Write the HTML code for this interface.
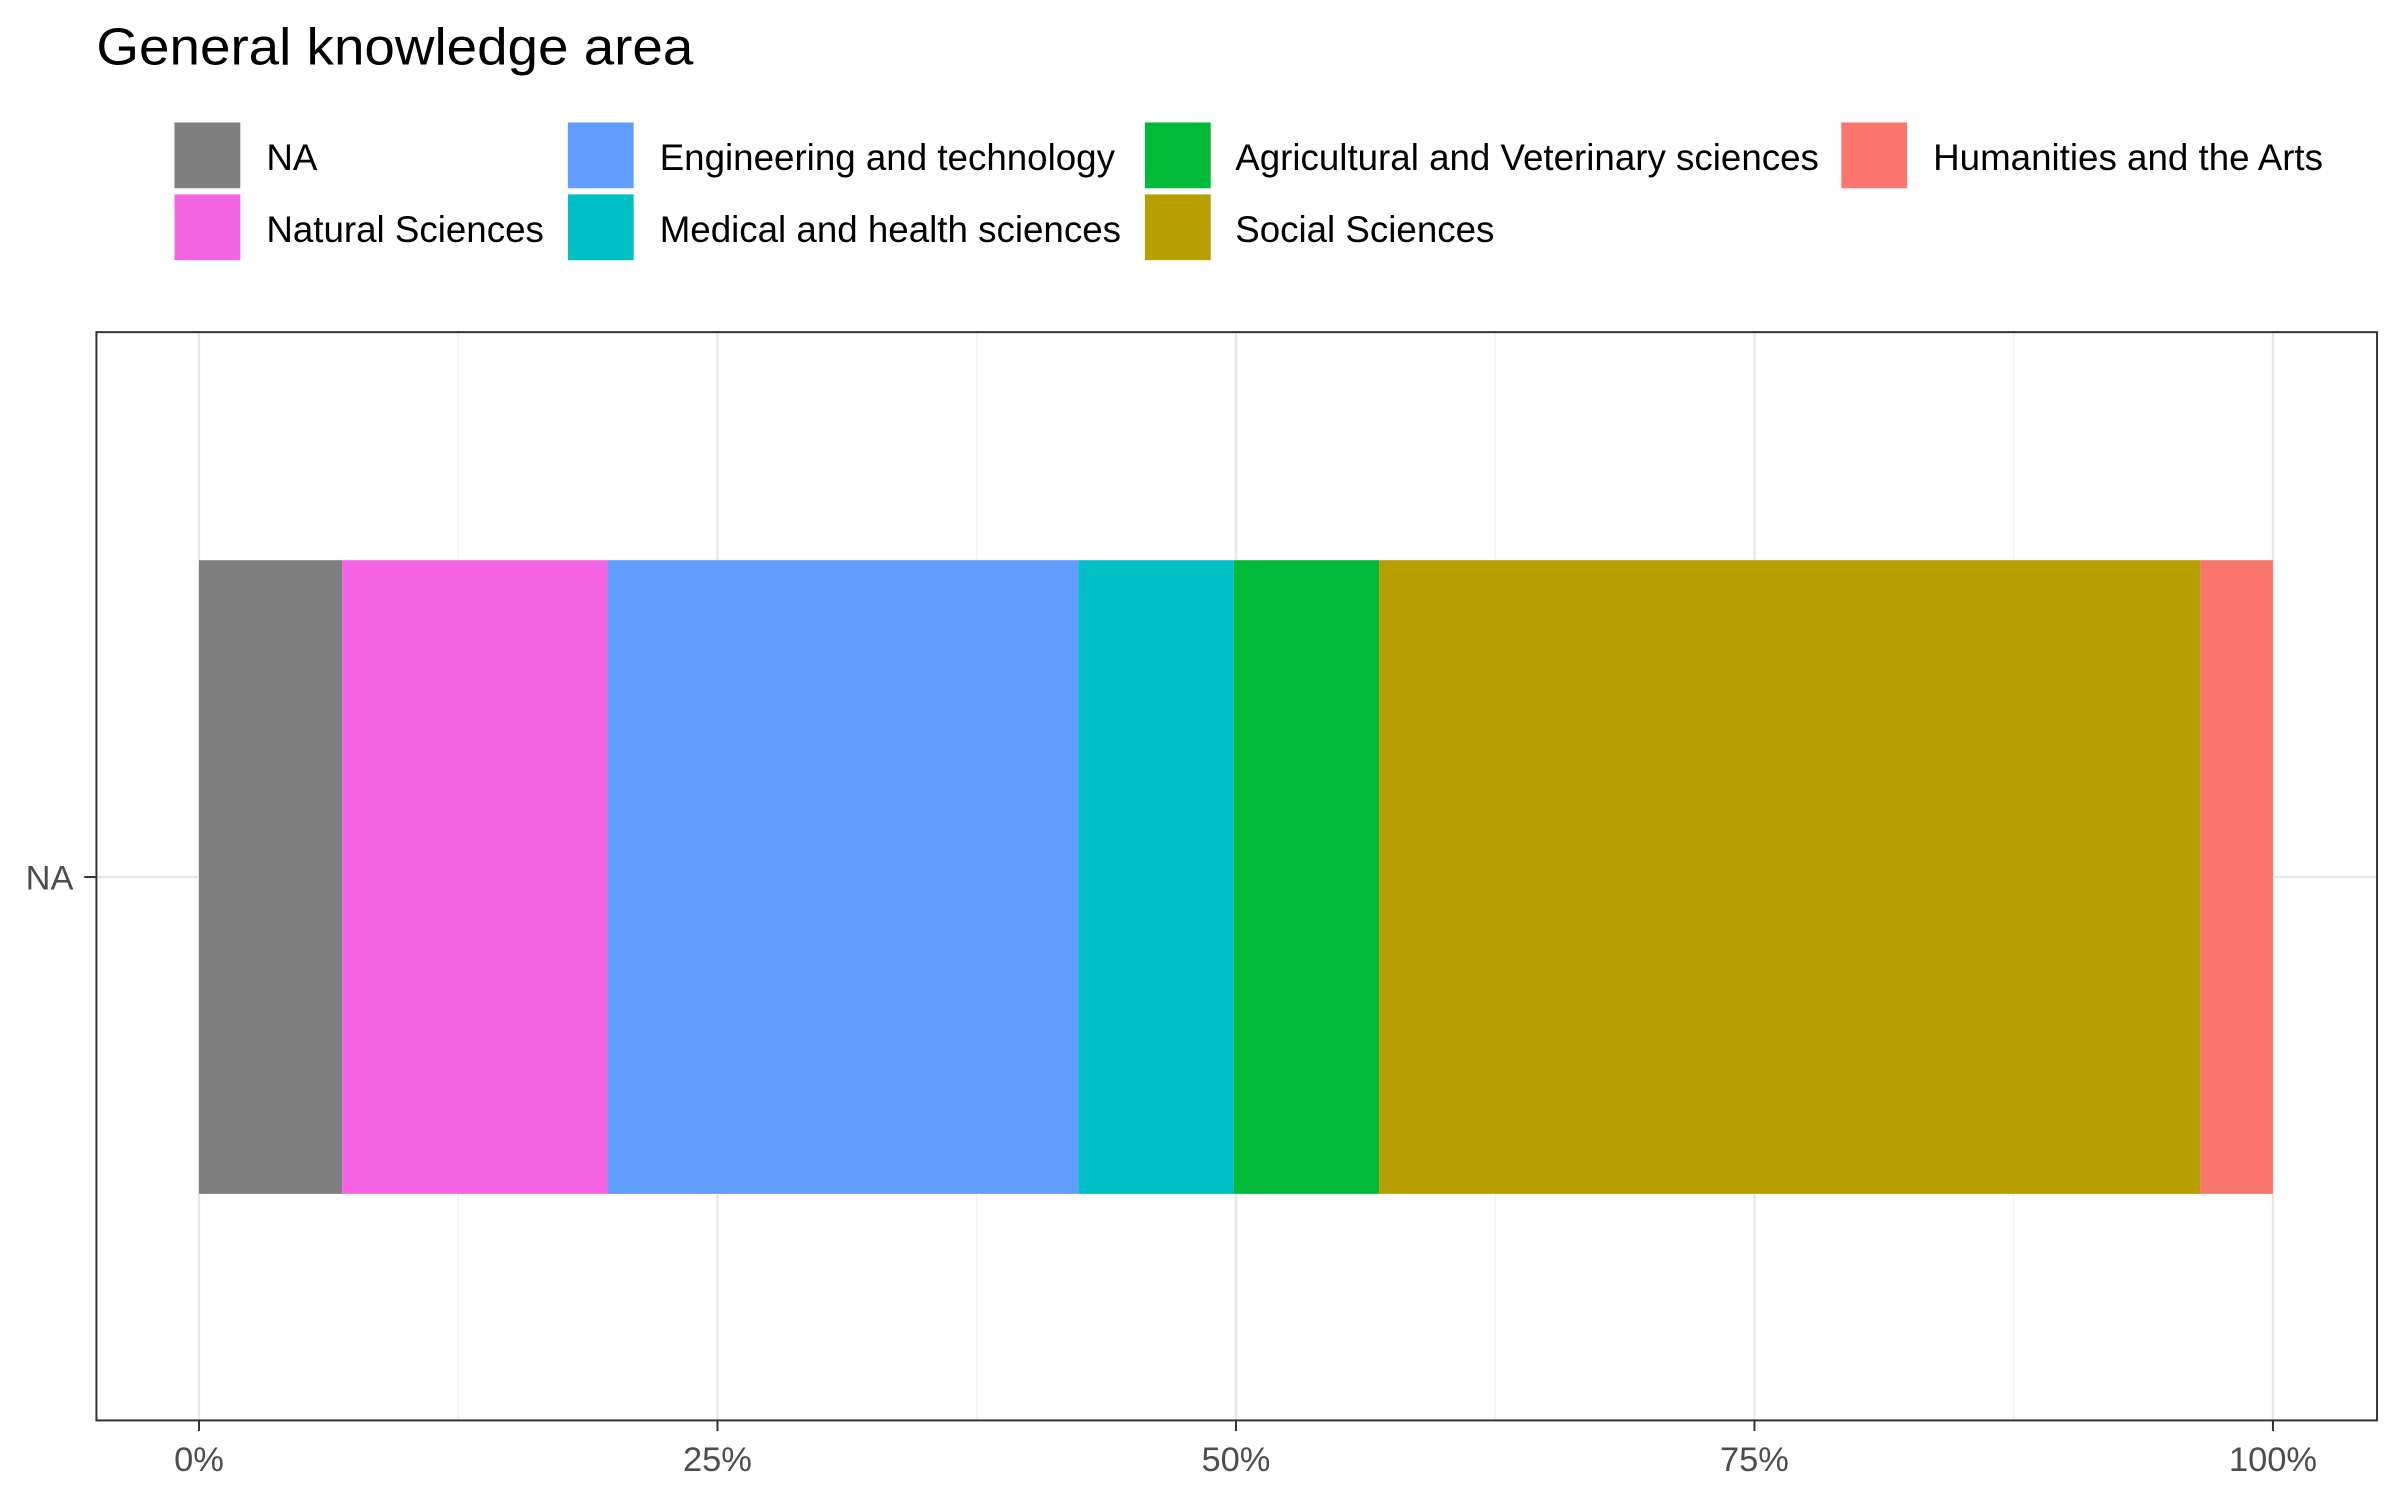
<!DOCTYPE html>
<html><head><meta charset="utf-8"><style>
html,body{margin:0;padding:0;background:#fff;overflow:hidden}
svg{display:block;width:2400px;height:1500px}
text{font-family:"Liberation Sans",Arial,sans-serif}
</style></head><body>
<svg id="chart" viewBox="0 0 1568 980" preserveAspectRatio="none" xmlns="http://www.w3.org/2000/svg">
<text x="63" y="42" font-size="34" fill="#000" textLength="390" lengthAdjust="spacingAndGlyphs">General knowledge area</text>
<g id="legend"></g>
<g id="grid"></g>
<g id="bars"></g>
<rect x="63" y="217" width="1490" height="711" fill="none" stroke="#333" stroke-width="1.3"/>
<g id="axes"></g>
</svg>
<script>
const categories = ["NA","Natural Sciences","Engineering and technology","Medical and health sciences","Agricultural and Veterinary sciences","Social Sciences","Humanities and the Arts"];
const values = [6.9, 12.8, 22.7, 7.5, 7.0, 39.6, 3.5];
const colors = ["#7f7f7f","#f564e3","#619cff","#00bfc4","#00ba38","#b79f00","#f8766d"];
const xTicks = [0,25,50,75,100];
const xTickLabels = ["0%","25%","50%","75%","100%"];
const yLabels = ["NA"];

const NS="http://www.w3.org/2000/svg";
function mk(tag,attrs,parent,text){const e=document.createElementNS(NS,tag);for(const k in attrs)e.setAttribute(k,attrs[k]);if(text!==undefined)e.textContent=text;parent.appendChild(e);return e;}
const x0=130,x1=1485;
function xs(v){return x0+(x1-x0)*v/100;}
const yCenter=573,barH=414;

const grid=document.getElementById('grid');
for(let i=0;i<xTicks.length-1;i++){
  const m=(xTicks[i]+xTicks[i+1])/2;
  const l=mk('line',{x1:xs(m),x2:xs(m),y1:217,y2:928,stroke:'#f3f3f3','stroke-width':1},grid);
  
  
}
xTicks.forEach(t=>{
  const l=mk('line',{x1:xs(t),x2:xs(t),y1:217,y2:928,stroke:'#e6e6e6','stroke-width':1.5},grid);
  
  
});
const hl=mk('line',{x1:63,x2:1553,y1:yCenter,y2:yCenter,stroke:'#e6e6e6','stroke-width':1.5},grid);



const bars=document.getElementById('bars');
let cum=0;
values.forEach((v,i)=>{
  const r=mk('rect',{x:xs(cum),y:yCenter-barH/2,width:xs(cum+v)-xs(cum),height:barH,fill:colors[i]},bars);
  
  
  cum+=v;
});

const axes=document.getElementById('axes');
xTicks.forEach((t,i)=>{
  const tk=mk('line',{x1:xs(t),x2:xs(t),y1:928,y2:935,stroke:'#333','stroke-width':1.3},axes);
  
  
  const tx=mk('text',{x:xs(t),y:961,'font-size':22.5,fill:'#4d4d4d','text-anchor':'middle'},axes,xTickLabels[i]);
  
  
});
yLabels.forEach(lb=>{
  const tk=mk('line',{x1:55,x2:63,y1:yCenter,y2:yCenter,stroke:'#333','stroke-width':1.3},axes);
  
  
  const tx=mk('text',{x:48,y:yCenter+8,'font-size':22.5,fill:'#4d4d4d','text-anchor':'end'},axes,lb);
  
  
});

const legend=document.getElementById('legend');
const colX=[[114,174],[371,431],[748,807],[1203,1263]];
const layout=[[0,0],[0,1],[1,0],[1,1],[2,0],[2,1],[3,0]];
const legendOrder=[0,1,2,3,4,5,6];
legendOrder.forEach((ci,k)=>{
  const [c,r]=layout[k];
  const y=80+r*47;
  const g=mk('g',{},legend);
  
  
  mk('rect',{x:colX[c][0],y:y,width:43,height:43,fill:colors[ci]},g);
  mk('text',{x:colX[c][1],y:y+31,'font-size':24,fill:'#000'},g,categories[ci]);
});
</script>
</body></html>
